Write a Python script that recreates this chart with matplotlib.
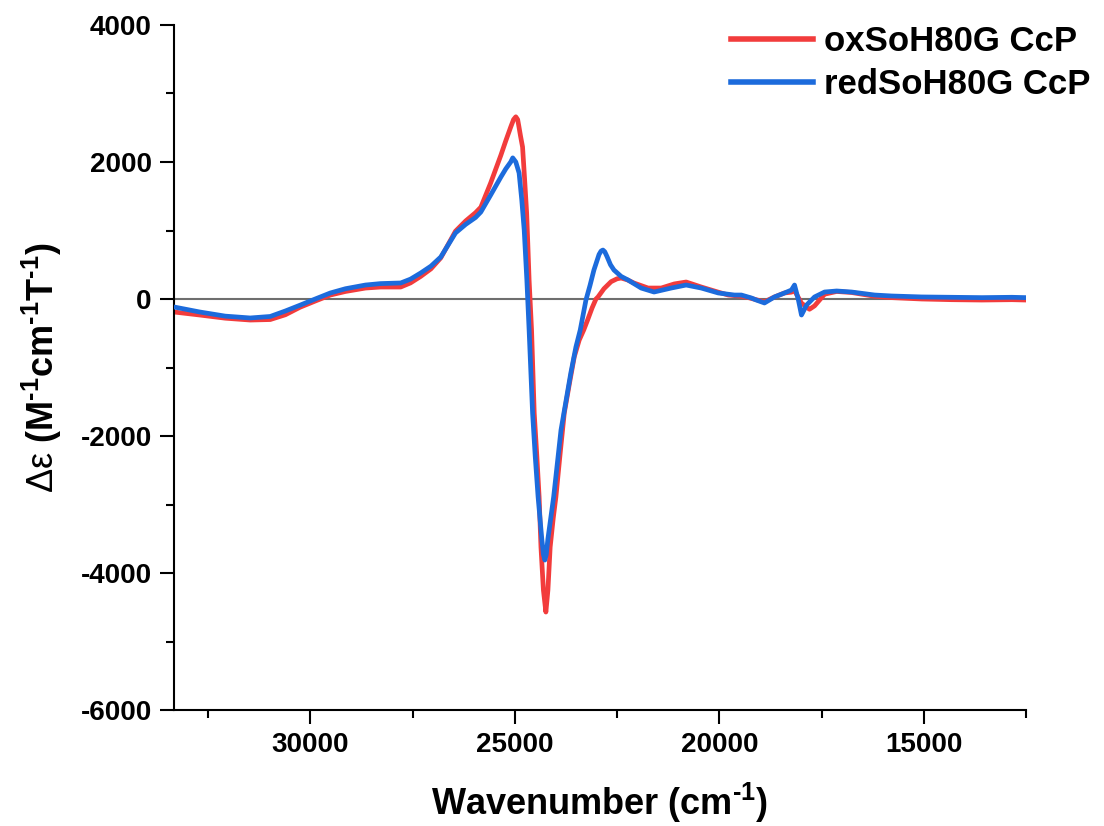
import numpy as np
import matplotlib.pyplot as plt
from matplotlib.ticker import MultipleLocator

plt.rcParams['font.family'] = ['Liberation Sans', 'DejaVu Sans']
plt.rcParams['font.weight'] = 'bold'
plt.rcParams['axes.unicode_minus'] = False
plt.rcParams['mathtext.fontset'] = 'custom'
plt.rcParams['mathtext.rm'] = 'Liberation Sans:weight=normal'
plt.rcParams['mathtext.it'] = 'Liberation Sans:italic'
plt.rcParams['mathtext.bf'] = 'Liberation Sans:bold'

# MCD spectra, wavenumber (cm-1) vs delta epsilon (M-1 cm-1 T-1)
wn_ox = [33330, 32700, 32080, 31470, 30980, 30610, 30250, 29880, 29510, 29140,
         28650, 28280, 27790, 27550, 27300, 27050, 26810, 26450, 26200, 25960,
         25830, 25590, 25340, 25220, 25100, 25030, 24975, 24930, 24900, 24860,
         24810, 24760, 24710, 24680, 24650, 24590, 24525, 24460, 24405, 24360,
         24300, 24240, 24190, 24135, 24060, 23995, 23890, 23790, 23660, 23545,
         23425, 23315, 23220, 23110, 23015, 22965, 22820, 22645, 22500, 22400,
         22250, 22085, 21740, 21420, 21100, 20810, 20440, 20025, 19780, 19460,
         19290, 18970, 18895, 18650, 18405, 18235, 18160, 18065, 17990, 17795,
         17670, 17425, 17130, 16765, 16200, 15785, 15050, 14315, 13580, 12845,
         12500]
de_ox = [-190, -234, -280, -307, -300, -230, -120, -30, 58, 110,
         160, 175, 175, 235, 330, 440, 600, 990, 1140, 1260,
         1340, 1694, 2100, 2310, 2510, 2620, 2660, 2620, 2520, 2380,
         2219, 1750, 1256, 780, 277, -453, -1664, -2300, -2891, -3621,
         -4250, -4570, -4250, -3621, -3200, -2891, -2250, -1664, -1220, -842,
         -600, -453, -307, -130, 0, 30, 150, 253, 295, 306,
         280, 233, 160, 160, 220, 248, 175, 100, 58, 40,
         20, -30, -40, 30, 88, 100, 120, 20, -60, -150,
         -100, 70, 110, 95, 40, 20, 0, -10, -15, -10,
         -15]

wn_red = [33330, 32700, 32080, 31470, 30980, 30610, 30250, 29880, 29510, 29140,
          28650, 28280, 27790, 27550, 27300, 27050, 26810, 26450, 26200, 25960,
          25830, 25590, 25340, 25220, 25100, 25050, 24975, 24895, 24830, 24770,
          24705, 24650, 24565, 24500, 24430, 24340, 24300, 24265, 24230, 24190,
          24050, 23870, 23630, 23505, 23400, 23260, 23160, 23065, 22940, 22890,
          22845, 22800, 22745, 22660, 22575, 22400, 22230, 21910, 21595, 21175,
          20810, 20440, 20025, 19630, 19460, 19215, 19095, 18895, 18650, 18405,
          18235, 18160, 18065, 17990, 17865, 17670, 17425, 17130, 16765, 16200,
          15785, 15050, 14315, 13580, 12845, 12500]
de_red = [-117, -190, -250, -277, -255, -175, -90, 0, 88, 150,
          204, 225, 234, 290, 380, 480, 613, 964, 1090, 1190,
          1270, 1518, 1781, 1900, 2000, 2060, 2000, 1840, 1450, 1007,
          277, -453, -1664, -2300, -2891, -3500, -3730, -3811, -3730, -3500,
          -2891, -1913, -1080, -700, -453, -15, 200, 423, 650, 700,
          715, 690, 620, 500, 423, 330, 277, 160, 102, 160,
          204, 160, 88, 58, 58, 15, -15, -58, 30, 88,
          131, 204, -15, -234, -88, 30, 102, 117, 102, 58,
          44, 30, 25, 20, 25, 20]

fig = plt.figure(figsize=(11.04, 8.26), dpi=100)
ax = fig.add_axes([174 / 1104, 1 - 710 / 826, (1026 - 174) / 1104, (710 - 25) / 826])

ax.axhline(0, color='#6e6e6e', lw=1.5, zorder=1)
ax.plot(wn_ox, de_ox, color='#f23c3c', lw=3.4, label='oxSoH80G CcP', zorder=2)
ax.plot(wn_red, de_red, color='#1c6bdc', lw=3.4, label='redSoH80G CcP', zorder=3)

ax.set_xlim(33333, 12500)
ax.set_ylim(-6000, 4000)
ax.xaxis.set_major_locator(MultipleLocator(5000))
ax.xaxis.set_minor_locator(MultipleLocator(2500))
ax.yaxis.set_major_locator(MultipleLocator(2000))
ax.yaxis.set_minor_locator(MultipleLocator(1000))

for side in ['top', 'right']:
    ax.spines[side].set_visible(False)
for side in ['left', 'bottom']:
    ax.spines[side].set_linewidth(1.5)
ax.tick_params(which='major', direction='out', length=10, width=1.5,
               labelsize=20, pad=6)
ax.tick_params(which='minor', direction='out', length=5.5, width=1.5)
for lbl in ax.get_xticklabels() + ax.get_yticklabels():
    lbl.set_fontweight('bold')

ax.set_xlabel('Wavenumber (cm$^{\\mathbf{\u20101}}$)', fontsize=26, fontweight='bold', labelpad=16)
ax.set_ylabel('$\\mathrm{\\Delta\\varepsilon}$ (M$^{\\mathbf{\u20101}}$cm$^{\\mathbf{\u20101}}$'
              'T$^{\\mathbf{\u20101}}$)', fontsize=26, fontweight='bold', labelpad=12)

leg = ax.legend(loc='upper right', bbox_to_anchor=(1090 / 1104, 1 - 25 / 826),
                bbox_transform=fig.transFigure, frameon=False, fontsize=25,
                handlelength=2.35, handletextpad=0.3, labelspacing=0.3,
                borderpad=0, borderaxespad=0)
for line in leg.get_lines():
    line.set_linewidth(4)
for txt in leg.get_texts():
    txt.set_fontweight('bold')

fig.savefig('out.png', dpi=100)
